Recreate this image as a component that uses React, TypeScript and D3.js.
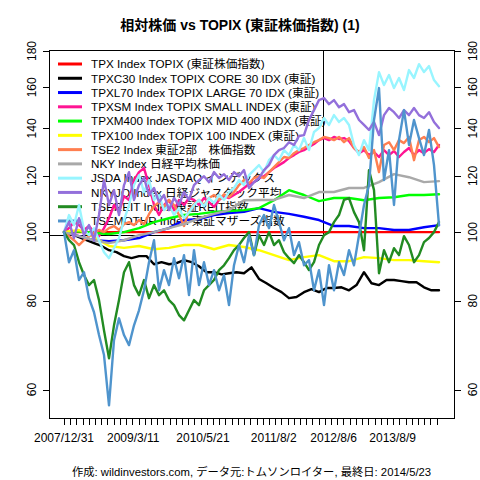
import React from 'react';
import * as d3 from 'd3';

// Trading-day index: 0 = 2007/12/31, last = 2014/5/23
const TOTAL_DAYS = 1571;
const TICK_STEP_DAYS = 26;
const TICK_COUNT = 61;

const titleText = '相対株価 vs TOPIX (東証株価指数) (1)';
const captionText = '作成: wildinvestors.com, データ元:トムソンロイター, 最終日: 2014/5/23';

const legendLabels = [
  'TPX Index TOPIX (東証株価指数)',
  'TPXC30 Index TOPIX CORE 30 IDX (東証)',
  'TPXL70 Index TOPIX LARGE 70 IDX (東証)',
  'TPXSM Index TOPIX SMALL INDEX (東証)',
  'TPXM400 Index TOPIX MID 400 INDX (東証)',
  'TPX100 Index TOPIX 100 INDEX (東証)',
  'TSE2 Index 東証2部\u3000株価指数',
  'NKY Index 日経平均株価',
  'JSDA Index JASDAQ インデックス',
  'NKYJQ Index 日経ジャスダック平均',
  'TSEREIT Index 東証REIT指数',
  'TSEMOTHR Index 東証マザーズ指数',
];

const lineColors = [
  '#FF0000', '#000000', '#0000FF', '#FF1493', '#00FF00', '#FFFF00',
  '#FF7F50', '#A9A9A9', '#98F5FF', '#9370DB', '#228B22', '#4F94CD',
];

const yTicks = [60, 80, 100, 120, 140, 160, 180];
const xTickLabels = ['2007/12/31', '2009/3/11', '2010/5/21', '2011/8/2', '2012/8/6', '2013/8/9'];
const xTickLabelDays = [0, 290, 582, 878, 1129, 1376];

const TPX = [100, 100, 100, 100, 100, 100, 100, 100, 100, 100, 100, 100, 100, 100, 100, 100, 100, 100, 100, 100, 100, 100, 100, 100, 100, 100];
const TPXC30 = [100, 99.4, 98.4, 97.4, 96.5, 95.6, 94.3, 93.7, 92.5, 91.9, 92.5, 92.5, 90.1, 90.7, 90.1, 90.4, 91.3, 90.7, 89.5, 87.8, 87.8, 87.2, 87.5, 87.8, 87.5, 89.2, 85.9, 84.7, 83.4, 82.3, 80.7, 81.0, 82.3, 83.1, 82.3, 83.4, 83.4, 83.6, 82.8, 84.2, 87.8, 84.7, 84.2, 85.6, 85.6, 85.3, 85.0, 85.0, 83.6, 82.8, 82.8];
const TPXL70 = [100, 98.7, 97.4, 97.1, 97.4, 98.1, 100, 101.3, 104.0, 104.3, 105.7, 106.4, 106.8, 108.1, 106.8, 106.1, 105.1, 104.0, 102.0, 102.0, 101.3, 101.3, 100.7, 100.7, 101.6, 102.3];
const TPXSM = [100.0, 101.3, 103.3, 102.3, 100.7, 102.0, 100.0, 98.7, 101.3, 104.6, 109.2, 106.7, 112.4, 111.0, 118.4, 121.5, 123.1, 116.5, 109.2, 105.7, 109.2, 111.0, 107.4, 111.0, 109.2, 111.7, 111.0, 109.2, 111.7, 110.2, 108.5, 111.0, 112.4, 111.7, 112.8, 113.9, 115.4, 116.9, 117.6, 119.2, 119.9, 121.5, 123.1, 124.3, 125.5, 127.2, 128.4, 129.7, 130.5, 131.8, 133.1, 134.8, 135.7, 134.8, 136.2, 135.3, 135.7, 134.4, 131.4, 129.2, 130.5, 128.4, 129.7, 127.6, 130.5, 128.4, 130.1, 127.6, 129.7, 131.4, 128.4, 130.5, 129.2, 130.9, 129.7, 132.7];
const TPXM400 = [100, 100.3, 99.7, 99.4, 100, 101.3, 103.3, 104.6, 105.7, 106.1, 106.8, 107.1, 107.4, 108.1, 110.9, 114.6, 112.8, 110.6, 111.7, 111.7, 110.9, 111.7, 112.0, 112.8, 112.8, 113.1];
const TPX100 = [100, 100.7, 98.4, 95.6, 95.0, 95.6, 94.6, 95.0, 95.9, 95.9, 94.6, 95.9, 95.3, 94.3, 92.8, 91.3, 92.2, 92.8, 91.0, 91.0, 92.2, 91.9, 91.3, 91.3, 91.0, 90.7];
const TSE2 = [100.0, 98.7, 97.4, 95.9, 97.4, 98.7, 99.7, 100.7, 100.0, 101.3, 102.0, 100.7, 102.6, 103.3, 102.3, 104.0, 102.6, 106.0, 108.8, 110.2, 108.5, 111.0, 109.2, 105.7, 102.0, 107.4, 109.5, 111.0, 109.2, 111.7, 112.8, 111.0, 113.1, 112.0, 113.9, 116.5, 118.4, 117.2, 119.2, 119.9, 119.2, 121.5, 123.5, 125.5, 127.6, 127.2, 129.2, 130.5, 131.4, 132.7, 133.9, 134.8, 136.2, 135.7, 134.8, 136.2, 133.9, 135.7, 131.4, 129.7, 131.8, 127.2, 130.5, 121.5, 132.7, 133.9, 130.5, 134.8, 133.5, 136.2, 126.3, 134.8, 136.2, 133.9, 135.7, 131.8];
const NKY = [100, 98.7, 97.4, 96.5, 97.4, 99.0, 100, 101.3, 102.6, 104.6, 106.1, 107.4, 110.9, 111.0, 111.0, 112.8, 111.7, 113.9, 113.9, 115.4, 115.4, 117.6, 120.7, 119.5, 117.6, 118.0];
const JSDA = [100.0, 105.7, 102.3, 109.2, 100.7, 99.0, 101.3, 97.4, 93.7, 91.9, 94.9, 98.1, 104.0, 109.2, 116.5, 120.3, 113.9, 118.4, 111.0, 112.8, 107.4, 109.2, 105.7, 108.1, 104.6, 106.7, 109.2, 111.0, 108.8, 111.7, 109.9, 112.8, 111.0, 113.9, 115.4, 118.4, 116.5, 120.3, 122.3, 124.3, 121.5, 126.3, 128.4, 126.3, 130.5, 128.4, 132.7, 130.5, 135.7, 130.5, 138.4, 140.2, 144.8, 141.6, 146.2, 143.0, 144.8, 141.6, 132.7, 128.4, 134.8, 130.5, 153.5, 168.1, 161.2, 166.5, 159.6, 164.9, 158.6, 169.2, 164.9, 172.5, 168.1, 171.4, 163.8, 160.6];
const NKYJQ = [100.0, 103.3, 98.1, 104.6, 99.0, 102.3, 97.4, 105.7, 118.4, 109.2, 114.6, 105.7, 116.5, 121.5, 111.0, 116.5, 119.2, 112.8, 115.4, 110.2, 112.8, 107.4, 111.7, 109.2, 113.9, 111.0, 116.5, 118.4, 119.9, 117.6, 121.5, 119.2, 120.7, 118.4, 121.5, 119.9, 122.3, 115.4, 117.6, 119.2, 122.3, 124.3, 128.4, 130.5, 131.4, 133.9, 132.7, 136.6, 137.0, 143.9, 148.6, 153.5, 154.5, 151.5, 153.5, 150.0, 151.5, 147.6, 148.6, 143.9, 141.6, 139.3, 143.0, 137.0, 146.2, 149.6, 147.6, 144.8, 148.6, 146.2, 149.6, 146.2, 144.8, 147.6, 143.0, 140.2];
const TSEREIT = [100.0, 97.4, 95.9, 90.7, 87.0, 84.2, 85.6, 80.2, 72.7, 66.4, 73.9, 80.2, 87.8, 90.7, 84.2, 81.5, 85.6, 80.7, 84.2, 81.5, 82.8, 80.2, 78.9, 76.4, 75.1, 77.6, 80.2, 78.9, 82.8, 84.2, 85.6, 88.4, 89.8, 91.9, 94.3, 95.9, 98.1, 100.0, 92.8, 99.0, 95.9, 100.0, 95.9, 97.4, 93.7, 91.9, 90.4, 92.8, 90.7, 88.4, 90.7, 95.9, 99.0, 100.0, 103.3, 105.7, 111.0, 111.7, 106.7, 103.3, 94.3, 122.3, 114.6, 87.5, 94.3, 90.7, 94.9, 92.8, 98.7, 95.9, 90.7, 92.8, 96.8, 98.1, 100.0, 103.3];
const TSEMOTHR = [100.0, 90.7, 94.3, 85.6, 87.8, 80.7, 77.1, 71.6, 67.1, 57.0, 70.4, 75.6, 71.6, 69.3, 73.9, 77.6, 82.8, 90.7, 97.4, 82.8, 88.4, 84.2, 91.9, 86.1, 92.8, 81.5, 94.3, 84.2, 90.7, 84.2, 88.4, 82.8, 87.0, 78.9, 89.8, 95.9, 90.7, 99.0, 92.8, 102.3, 105.7, 101.3, 109.2, 103.3, 97.4, 101.3, 92.8, 96.8, 89.8, 91.3, 82.8, 88.4, 78.9, 89.8, 82.8, 90.7, 87.0, 94.3, 89.8, 99.0, 109.2, 116.5, 143.9, 159.6, 118.4, 130.5, 109.2, 134.8, 148.6, 132.7, 143.9, 135.7, 128.4, 139.3, 124.3, 102.3];

const seriesList = [TPX, TPXC30, TPXL70, TPXSM, TPXM400, TPX100, TSE2, NKY, JSDA, NKYJQ, TSEREIT, TSEMOTHR];

const FONT = "'Liberation Sans', Arial, 'Noto Sans CJK JP', sans-serif";

export default function App() {
  const W = 480;
  const H = 480;
  const plotL = 49;
  const plotR = 454;
  const plotT = 50;
  const plotB = 418;
  const pad = (plotR - plotL) * 0.04 / 1.08;

  const xs = d3.scaleLinear().domain([0, TOTAL_DAYS - 1]).range([plotL + pad, plotR - pad]);
  const ys = d3.scaleLog().domain([54.7, 180.6]).range([plotB, plotT]);

  const makePath = (vals: number[]) => {
    const n = vals.length;
    const line = d3
      .line<number>()
      .x((_, i) => xs((i * (TOTAL_DAYS - 1)) / (n - 1)))
      .y((v) => ys(v));
    return line(vals) || '';
  };

  const tickDays = d3.range(TICK_COUNT).map((k) => k * TICK_STEP_DAYS);

  const legendX1 = 58;
  const legendX2 = 82;
  const legendTextX = 91;
  const legendY0 = 64;
  const legendDy = 14.27;

  const lw = 2.4;

  return (
    <svg
      width={W}
      height={H}
      style={{ position: 'absolute', left: 0, top: 0, background: '#fff' }}
      fontFamily={FONT}
    >
      <defs>
        <clipPath id="plotclip">
          <rect x={plotL} y={plotT} width={plotR - plotL} height={plotB - plotT} />
        </clipPath>
      </defs>
      <rect x={0} y={0} width={W} height={H} fill="#fff" />

      <text x={240} y={30} textAnchor="middle" fontSize={14} fontWeight="bold" fill="#000">
        {titleText}
      </text>

      {/* legend */}
      <rect x={plotL + 0.5} y={plotT + 0.5} width={274} height={185} fill="none" stroke="#000" strokeWidth={1} />
      {legendLabels.map((lab, k) => {
        const y = legendY0 + k * legendDy;
        return (
          <g key={lab}>
            <line x1={legendX1} x2={legendX2} y1={y} y2={y} stroke={lineColors[k]} strokeWidth={3} />
            <text x={legendTextX} y={y + 4.3} fontSize={11.7} fill="#000">
              {lab}
            </text>
          </g>
        );
      })}

      {/* data */}
      <g clipPath="url(#plotclip)">
        {seriesList.map((s, k) => (
          <path
            key={k}
            d={makePath(s)}
            fill="none"
            stroke={lineColors[k]}
            strokeWidth={lw}
            strokeLinejoin="round"
            strokeLinecap="round"
          />
        ))}
      </g>

      {/* plot box */}
      <rect
        x={plotL + 0.5}
        y={plotT + 0.5}
        width={plotR - plotL}
        height={plotB - plotT}
        fill="none"
        stroke="#000"
        strokeWidth={1}
      />

      {/* left axis */}
      {yTicks.map((v) => {
        const y = Math.round(ys(v)) + 0.5;
        return (
          <g key={'l' + v}>
            <line x1={43} x2={plotL + 0.5} y1={y} y2={y} stroke="#000" />
            <text
              transform={`translate(35.5,${ys(v)}) rotate(-90)`}
              textAnchor="middle"
              fontSize={12}
              fill="#000"
            >
              {v}
            </text>
          </g>
        );
      })}

      {/* right axis */}
      {yTicks.map((v) => {
        const y = Math.round(ys(v)) + 0.5;
        return (
          <g key={'r' + v}>
            <line x1={plotR + 0.5} x2={461} y1={y} y2={y} stroke="#000" />
            <text
              transform={`translate(477,${ys(v)}) rotate(-90)`}
              textAnchor="middle"
              fontSize={12}
              fill="#000"
            >
              {v}
            </text>
          </g>
        );
      })}

      {/* bottom axis */}
      {tickDays.map((d) => {
        const x = Math.round(xs(d)) + 0.5;
        return <line key={'t' + d} x1={x} x2={x} y1={plotB + 0.5} y2={425} stroke="#000" />;
      })}
      {xTickLabels.map((lab, i) => (
        <text key={lab} x={xs(xTickLabelDays[i])} y={441.5} textAnchor="middle" fontSize={12} fill="#000">
          {lab}
        </text>
      ))}

      <text x={(plotL + plotR) / 2} y={476} textAnchor="middle" fontSize={11.3} fill="#000">
        {captionText}
      </text>
    </svg>
  );
}
